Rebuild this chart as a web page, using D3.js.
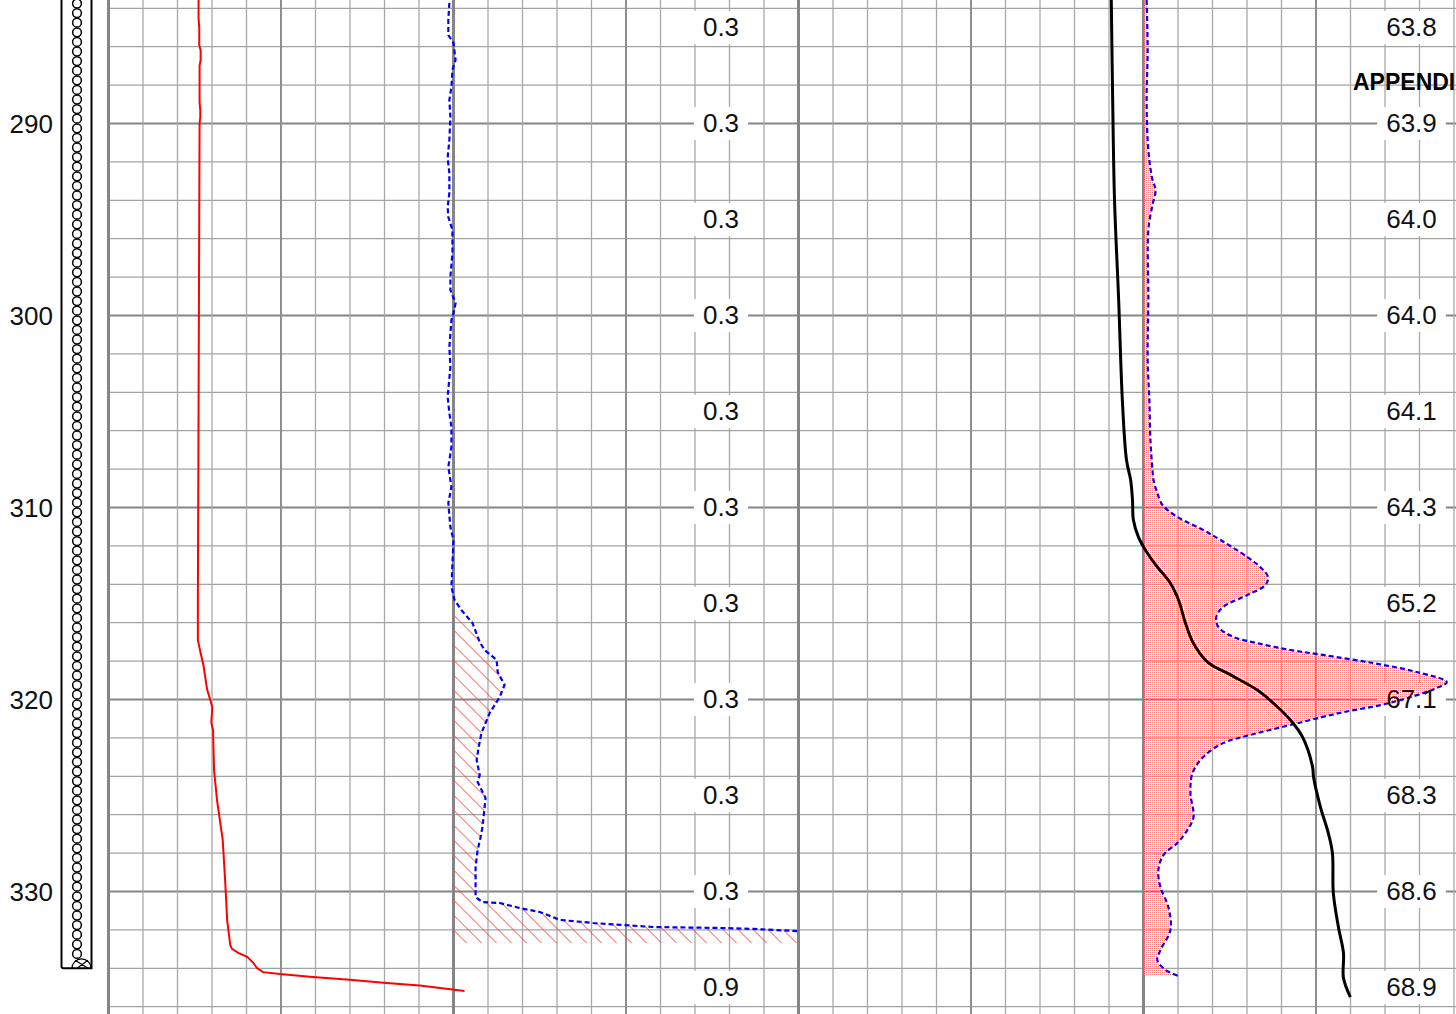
<!DOCTYPE html>
<html>
<head>
<meta charset="utf-8">
<script src="https://cdn.jsdelivr.net/npm/d3@7"></script>
<style>
  html, body { margin: 0; padding: 0; background: #fff; overflow: hidden; }
  svg { display: block; font-family: "Liberation Sans", Arial, sans-serif; }
</style>
</head>
<body>
<svg id="chart" width="1456" height="1014"></svg>
<script>
// depth axis + the readout columns
const depthTicks = [290, 300, 310, 320, 330];
const readoutDepths = [285, 290, 295, 300, 305, 310, 315, 320, 325, 330, 335];
const midReadouts = ['0.3', '0.3', '0.3', '0.3', '0.3', '0.3', '0.3', '0.3', '0.3', '0.3', '0.9'];
const rightReadouts = ['63.8', '63.9', '64.0', '64.0', '64.1', '64.3', '65.2', '67.1', '68.3', '68.6', '68.9'];
const wellTop = 283, wellBottom = 334;

// track 1, red curve
const redDepth = [283.57, 284.5, 285.0, 285.9, 286.2, 286.7, 287.0, 288.9, 289.3, 289.7, 290.0, 295, 300, 305, 310, 315,
  316.9, 317.5, 318.2, 319.5, 320.03, 320.4, 321.2, 321.6, 323.7, 325.3, 326.8, 327.3, 329.4, 331.5, 332.8, 332.99,
  333.2, 333.4, 333.7, 334.0, 334.2, 334.3, 334.45, 334.6, 334.77, 334.9, 335.1, 335.18];
const redValue = [26.1, 26.1, 26.3, 26.3, 26.7, 26.7, 26.4, 26.4, 26.6, 26.6, 26.4, 26.3, 26.2, 26.1, 26.0, 25.9,
  25.9, 26.6, 27.5, 28.6, 29.5, 30.1, 29.8, 30.3, 30.6, 31.5, 32.7, 33.1, 33.8, 34.4, 35.3, 35.8,
  37.6, 40.2, 41.9, 43.1, 44.8, 49.7, 59.2, 69.9, 80.6, 90.2, 99.7, 103.2];

// track 2, blue dashed curve (hatched)
const blue2Depth = [283.72, 284.61, 285.39, 285.81, 286.69, 287.21, 288.10, 288.78, 289.66, 290.86, 291.80, 292.58,
  293.62, 294.35, 294.87, 295.55, 296.74, 297.99, 298.67, 299.35, 299.87, 300.23, 301.64, 302.68, 304.24, 305.08,
  305.81, 306.85, 307.89, 308.93, 309.77, 311.02, 311.69, 312.89, 314.14, 314.82, 315.34, 316.02, 317.01, 317.42,
  317.94, 318.57, 319.24, 319.87, 320.70, 321.74, 322.47, 323.15, 323.93, 324.30, 325.13, 326.64, 327.21, 327.84,
  328.72, 330.29, 330.55, 330.60, 330.86, 331.07, 331.33, 331.48, 331.64, 331.85, 331.90, 331.95, 332.06, 332.68];
const blue2Value = [-1.2, -1.5, -1.5, 0, 0.6, -0.3, -0.6, -1.2, -0.9, -1.2, -1.7, -1.2,
  -1.2, -1.7, -1.5, -0.3, -0.3, -0.9, -0.9, 0.6, 0, -0.6, -1.2, -0.9, -1.7, -1.2,
  -0.6, -0.6, -1.5, -0.6, -1.5, -0.9, 0, -0.3, -0.6, 0.3, 2.3, 5.5, 7.6, 9.0,
  12.5, 12.8, 14.8, 13.4, 10.5, 8.1, 7.3, 6.7, 7.6, 7.0, 9.3, 8.4, 7.8, 7.0,
  6.4, 6.4, 8.4, 13.4, 19.2, 25.0, 28.8, 30.8, 40.4, 57.8, 77.3, 86.9, 99.7, 160];
const hatchFrom = 315.34;

// tracks 3-4, black curve
const blackDepth = [283.57, 288.78, 293.99, 299.19, 304.40, 307.53, 308.57, 309.61, 310.65, 311.54, 312.21, 313.10,
  313.93, 314.82, 316.02, 317.06, 318.05, 318.72, 319.51, 320.39, 321.07, 321.95, 323.52, 324.04, 325.60, 326.95,
  328.00, 330.08, 331.85, 333.20, 334.51, 335.50];
const blackValue = [63.79, 63.82, 63.86, 63.95, 64.03, 64.12, 64.21, 64.25, 64.27, 64.38, 64.53, 64.79,
  65.07, 65.25, 65.40, 65.57, 65.88, 66.38, 66.96, 67.40, 67.68, 67.94, 68.16, 68.18, 68.33, 68.50,
  68.59, 68.61, 68.72, 68.83, 68.83, 68.98];

// track 4, blue dashed curve (stippled)
const blue4Depth = [283.57, 286.17, 288.78, 291.38, 292.94, 293.46, 294.24, 295.55, 299.19, 302.32, 304.40, 306.48,
  308.05, 308.57, 309.24, 309.87, 310.49, 311.17, 311.69, 312.58, 313.10, 313.62, 314.04, 314.56, 315.18, 315.70,
  316.22, 316.74, 317.06, 317.42, 317.68, 318.10, 318.57, 319.09, 319.40, 320.18, 320.70, 321.33, 321.85, 322.27,
  323.00, 323.83, 324.87, 326.12, 326.80, 327.47, 328.10, 328.88, 329.77, 330.81, 332.01, 333.05, 333.57, 334.09, 334.40];
const blue4Value = [0.9, 1.2, 0.9, 1.4, 2.6, 3.5, 2.6, 1.4, 1.4, 1.2, 1.7, 2.0,
  2.6, 2.9, 4.0, 5.5, 9.8, 17.3, 22.3, 30.1, 33.8, 36.1, 35.3, 30.1, 23.1, 21.1,
  21.7, 26.0, 32.9, 42.5, 52.0, 66.5, 79.2, 87.9, 85.0, 71.4, 56.9, 42.5, 30.9, 23.1,
  17.3, 14.2, 13.6, 14.5, 12.7, 9.8, 5.8, 4.3, 4.9, 7.2, 7.8, 4.9, 4.0, 6.4, 10.1];

const svg = d3.select('#chart');
const W = 1456, H = 1014;

const y = d3.scaleLinear().domain([290, 330]).range([123.5, 891.5]);
const gridX = d3.scaleLinear().domain([0, 40]).range([108.5, 1488.5]);
const t1 = d3.scaleLinear().domain([0, 100]).range([108.5, 453.5]);
const t2 = d3.scaleLinear().domain([0, 100]).range([453.5, 798.5]).clamp(false);
const t4 = d3.scaleLinear().domain([0, 100]).range([1143.5, 1488.5]);
const tBlack = d3.scaleLinear().domain([57, 72]).range([798.5, 1489.5]);

svg.append('rect').attr('width', W).attr('height', H).attr('fill', '#fff');

const blue2 = d3.zip(blue2Depth, blue2Value);
const blue4 = d3.zip(blue4Depth, blue4Value);
const hatchPts = blue2.filter(d => d[0] >= hatchFrom);
const area2 = d3.area().y(d => y(d[0])).x0(t2(0)).x1(d => t2(Math.max(0, Math.min(100, d[1]))));

const defs = svg.append('defs');
const dots = defs.append('pattern')
  .attr('id', 'dots').attr('patternUnits', 'userSpaceOnUse')
  .attr('width', 2).attr('height', 2);
dots.append('rect').attr('width', 1).attr('height', 1).attr('fill', '#ff8080');

// keep track 2 curve inside the right edge of its track
defs.append('clipPath').attr('id', 'clip2')
  .append('rect').attr('x', 0).attr('y', 0)
  .attr('width', t2.range()[1]).attr('height', H);
defs.append('clipPath').attr('id', 'hatchClip')
  .append('path').datum(hatchPts)
  .attr('d', area2);

// grid
const grid = svg.append('g');
grid.selectAll('line.h')
  .data(d3.range(284, 337, 2))
  .enter().append('line')
  .attr('x1', gridX(0)).attr('x2', W)
  .attr('y1', d => y(d)).attr('y2', d => y(d))
  .attr('stroke', d => d % 10 === 0 ? '#858585' : '#a3a3a3')
  .attr('stroke-width', d => d % 10 === 0 ? 2 : 1.3);

grid.selectAll('line.v')
  .data(d3.range(0, 41))
  .enter().append('line')
  .attr('x1', d => gridX(d)).attr('x2', d => gridX(d))
  .attr('y1', 0).attr('y2', H)
  .attr('stroke', d => d % 10 === 0 ? '#858585' : d % 5 === 0 ? '#8e8e8e' : '#a8a8a8')
  .attr('stroke-width', d => d % 10 === 0 ? 3 : d % 5 === 0 ? 2 : 1.3);

// depth labels
const axis = svg.append('g')
  .attr('transform', 'translate(53,0)')
  .call(d3.axisLeft(y).tickValues(depthTicks).tickSize(0).tickPadding(0).tickFormat(d3.format('d')));
axis.select('.domain').remove();
axis.selectAll('text')
  .attr('font-size', 26).attr('fill', '#111')
  .attr('font-family', '"Liberation Sans", Arial, sans-serif')
  .attr('dy', '0.36em');

// well column
const well = svg.append('g');
well.append('path')
  .attr('d', `M61.5,${y(wellTop)}V${y(wellBottom) - 2}Q61.5,${y(wellBottom)} 63.5,${y(wellBottom)}H91.5V${y(wellTop)}`)
  .attr('fill', '#fff').attr('stroke', '#000').attr('stroke-width', 2);
well.selectAll('circle')
  .data(d3.range(wellTop + 0.25, wellBottom - 0.7, 0.5))
  .enter().append('circle')
  .attr('cx', 77).attr('cy', d => y(d)).attr('r', 4.4)
  .attr('fill', 'none').attr('stroke', '#000').attr('stroke-width', 1.5);
well.append('path')
  .attr('d', `M72,${y(wellBottom)}A9.5,9.5 0 0 1 91,${y(wellBottom)}M75,${y(wellBottom) - 8}L88,${y(wellBottom)}M88,${y(wellBottom) - 8}L77,${y(wellBottom)}`)
  .attr('fill', 'none').attr('stroke', '#000').attr('stroke-width', 1.2);

// readout boxes now, their text after the curves
const readoutCols = [[721, midReadouts], [1411.5, rightReadouts]];
const boxLayer = svg.append('g');

// hatch in track 2
const [hTop, hBot] = [y(hatchFrom) - 2, y(d3.max(hatchPts, d => d[0])) + 2];
svg.append('g').attr('clip-path', 'url(#hatchClip)')
  .selectAll('line')
  .data(d3.range(t2(0) - (hBot - hTop) - 15, t2.range()[1] + 15, 15))
  .enter().append('line')
  .attr('x1', c => c).attr('y1', hTop)
  .attr('x2', c => c + (hBot - hTop)).attr('y2', hBot)
  .attr('stroke', '#ff4545').attr('stroke-width', 1);

// stipple in track 4
svg.append('path')
  .datum(blue4)
  .attr('fill', 'url(#dots)')
  .attr('d', d3.area().curve(d3.curveCatmullRom).y(d => y(d[0])).x0(t4(0)).x1(d => t4(Math.max(0, d[1]))));

// curves
svg.append('path')
  .datum(d3.zip(redDepth, redValue))
  .attr('fill', 'none').attr('stroke', '#ff0000').attr('stroke-width', 2)
  .attr('d', d3.line().x(d => t1(d[1])).y(d => y(d[0])));

svg.append('path')
  .datum(blue2)
  .attr('clip-path', 'url(#clip2)')
  .attr('fill', 'none').attr('stroke', '#0000ff').attr('stroke-width', 2.2)
  .attr('stroke-dasharray', '5,3')
  .attr('d', d3.line().x(d => t2(d[1])).y(d => y(d[0])));

svg.append('path')
  .datum(blue4)
  .attr('fill', 'none').attr('stroke', '#0000ff').attr('stroke-width', 2.2)
  .attr('stroke-dasharray', '5,3')
  .attr('d', d3.line().curve(d3.curveCatmullRom).x(d => t4(d[1])).y(d => y(d[0])));

svg.append('path')
  .datum(d3.zip(blackDepth, blackValue))
  .attr('fill', 'none').attr('stroke', '#000').attr('stroke-width', 3)
  .attr('d', d3.line().curve(d3.curveCatmullRom).x(d => tBlack(d[1])).y(d => y(d[0])));

readoutCols.forEach(([cx, texts]) => {
  const rows = d3.zip(readoutDepths, texts);
  const boxes = boxLayer.append('g').selectAll('rect').data(rows).enter().append('rect').attr('fill', '#fff');
  svg.append('g').selectAll('text').data(rows).enter().append('text')
    .attr('x', cx).attr('y', d => y(d[0])).attr('dy', '0.34em')
    .attr('text-anchor', 'middle').attr('font-size', 26).attr('fill', '#111')
    .text(d => d[1])
    .each(function (d, i) {
      const w = this.getComputedTextLength();
      d3.select(boxes.nodes()[i])
        .attr('x', cx - w / 2 - 9).attr('width', w + 18)
        .attr('y', y(d[0]) - 16.5).attr('height', 33);
    });
});

svg.append('text')
  .attr('x', 1353).attr('y', 90)
  .attr('font-size', 23).attr('font-weight', 'bold').attr('fill', '#000')
  .text('APPENDIX');
</script>
</body>
</html>
